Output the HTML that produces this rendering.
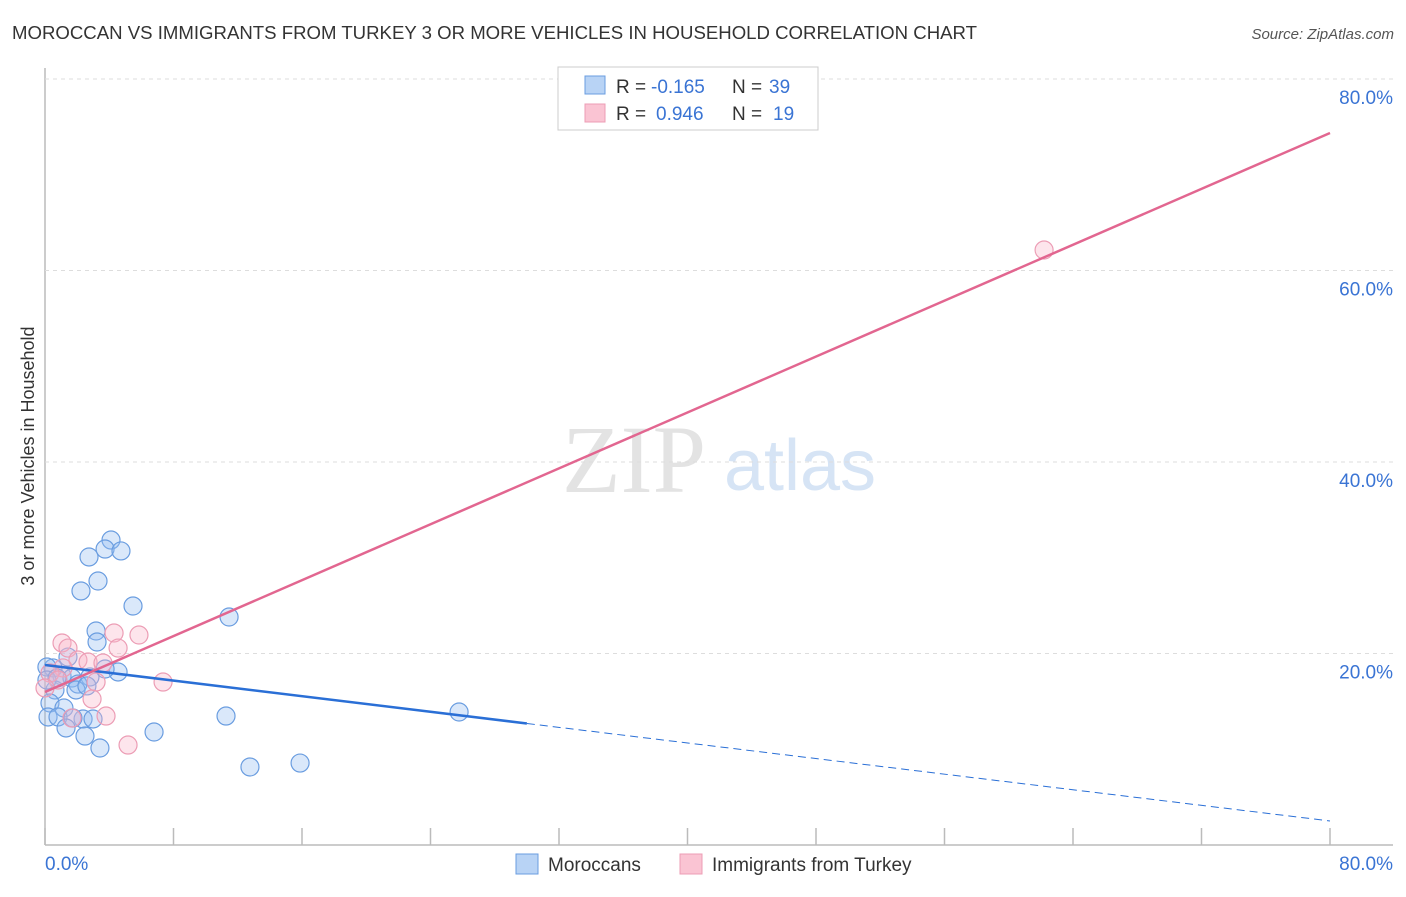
<!DOCTYPE html>
<html><head><meta charset="utf-8"><style>
body{margin:0;background:#fff;font-family:"Liberation Sans",sans-serif;}
</style></head><body>
<svg id="c" width="1406" height="892" xmlns="http://www.w3.org/2000/svg">
<text x="12" y="39" font-size="18" fill="#333" textLength="965" lengthAdjust="spacingAndGlyphs">MOROCCAN VS IMMIGRANTS FROM TURKEY 3 OR MORE VEHICLES IN HOUSEHOLD CORRELATION CHART</text>
<text x="1394" y="39" font-size="15" fill="#555" font-style="italic" text-anchor="end">Source: ZipAtlas.com</text>
<text x="634" y="492" font-size="96" fill="#e3e3e3" font-family="Liberation Serif,serif" text-anchor="middle">ZIP</text>
<text x="800" y="490" font-size="72" fill="#d6e4f5" text-anchor="middle">atlas</text>
<text transform="translate(34,456) rotate(-90)" font-size="18" fill="#333" text-anchor="middle">3 or more Vehicles in Household</text>
<g id="grid"></g><g id="marks"></g>
<g>
<rect x="558" y="67" width="260" height="63" fill="#fff" stroke="#ccc"/>
<rect x="585" y="76" width="20" height="18" fill="#b8d3f5" stroke="#6a9de0"/>
<rect x="585" y="104" width="20" height="18" fill="#fac4d3" stroke="#ec9db5"/>
<text x="616" y="93" font-size="19" fill="#333">R =</text>
<text x="651" y="93" font-size="19" fill="#3a74d4">-0.165</text>
<text x="732" y="93" font-size="19" fill="#333">N =</text>
<text x="769" y="93" font-size="19" fill="#3a74d4">39</text>
<text x="616" y="120" font-size="19" fill="#333">R =</text>
<text x="656" y="120" font-size="19" fill="#3a74d4">0.946</text>
<text x="732" y="120" font-size="19" fill="#333">N =</text>
<text x="773" y="120" font-size="19" fill="#3a74d4">19</text>
</g>
<g>
<rect x="516" y="854" width="22" height="20" fill="#b8d3f5" stroke="#6a9de0"/>
<text x="548" y="871" font-size="19" fill="#333">Moroccans</text>
<rect x="680" y="854" width="22" height="20" fill="#fac4d3" stroke="#ec9db5"/>
<text x="712" y="871" font-size="19" fill="#333">Immigrants from Turkey</text>
</g>
</svg>
<script>
const yTicks=[20,40,60,80];
const blueX=[4.11,3.74,4.73,2.74,3.30,2.24,5.48,11.46,3.18,3.24,1.43,0.50,4.55,3.74,0.12,1.06,1.68,2.80,2.05,0.62,1.93,0.31,1.18,0.19,0.81,2.37,2.99,1.74,1.31,2.49,3.42,6.79,11.27,12.76,15.88,25.78,0.12,0.75,2.61];
const blueY=[31.85,30.91,30.71,30.08,27.57,26.53,24.96,23.81,22.35,21.20,19.63,18.49,18.07,18.38,18.59,17.65,17.44,17.55,16.81,16.19,16.19,14.83,14.31,13.37,13.37,13.16,13.16,13.26,12.22,11.38,10.13,11.80,13.47,8.15,8.56,13.89,17.23,17.44,16.61];
const pinkX=[1.06,1.43,4.30,5.85,4.55,2.05,2.68,3.61,1.12,0.31,0.81,3.18,7.35,0,2.93,3.80,1.68,5.17,62.2];
const pinkY=[21.10,20.57,22.14,21.93,20.57,19.32,19.11,19.01,18.49,17.96,17.23,17.02,17.02,16.40,15.25,13.47,13.26,10.44,62.14];
const blueLine=[18.80,-0.2036,30];
const pinkLine=[15.98,0.7298];
const NS="http://www.w3.org/2000/svg";
const sx=v=>45+v/80*1285, sy=v=>845-v/80*766;
function mk(t,a,p){const e=document.createElementNS(NS,t);for(const k in a)e.setAttribute(k,a[k]);document.getElementById(p).appendChild(e);return e;}
let e;
e=mk('line',{x1:45,y1:68,x2:45,y2:845,stroke:'#bbb','stroke-width':1.5},'grid');


e=mk('line',{x1:45,y1:845,x2:1393,y2:845,stroke:'#bbb','stroke-width':1.5},'grid');


for(let i=0;i<=10;i++){const x=sx(i*8);e=mk('line',{x1:x,y1:828,x2:x,y2:845,stroke:'#bbb','stroke-width':1.5},'grid');

}
yTicks.forEach(t=>{e=mk('line',{x1:45,y1:sy(t),x2:1393,y2:sy(t),stroke:'#ddd','stroke-dasharray':'4 4'},'grid');


e=mk('text',{x:1393,y:sy(t)+25,'font-size':19,fill:'#3a74d4','text-anchor':'end'},'grid');e.textContent=t.toFixed(1)+'%';

});
e=mk('text',{x:45,y:870,'font-size':19,fill:'#3a74d4'},'grid');e.textContent='0.0%';


e=mk('text',{x:1393,y:870,'font-size':19,fill:'#3a74d4','text-anchor':'end'},'grid');e.textContent='80.0%';


blueX.forEach((x,i)=>{e=mk('circle',{cx:sx(x),cy:sy(blueY[i]),r:9,fill:'rgba(150,190,240,0.35)',stroke:'#6a9de0','stroke-width':1.2},'marks');

});
pinkX.forEach((x,i)=>{e=mk('circle',{cx:sx(x),cy:sy(pinkY[i]),r:9,fill:'rgba(248,180,200,0.35)',stroke:'#ec9db5','stroke-width':1.2},'marks');

});
const bf=x=>blueLine[0]+blueLine[1]*x, pf=x=>pinkLine[0]+pinkLine[1]*x;
e=mk('line',{x1:sx(0),y1:sy(bf(0)),x2:sx(blueLine[2]),y2:sy(bf(blueLine[2])),stroke:'#2a6fd6','stroke-width':2.5},'marks');


e=mk('line',{x1:sx(blueLine[2]),y1:sy(bf(blueLine[2])),x2:sx(80),y2:sy(bf(80)),stroke:'#2a6fd6','stroke-width':1,'stroke-dasharray':'8 5'},'marks');


e=mk('line',{x1:sx(0),y1:sy(pf(0)),x2:sx(80),y2:sy(pf(80)),stroke:'#e26690','stroke-width':2.5},'marks');


</script>
</body></html>
